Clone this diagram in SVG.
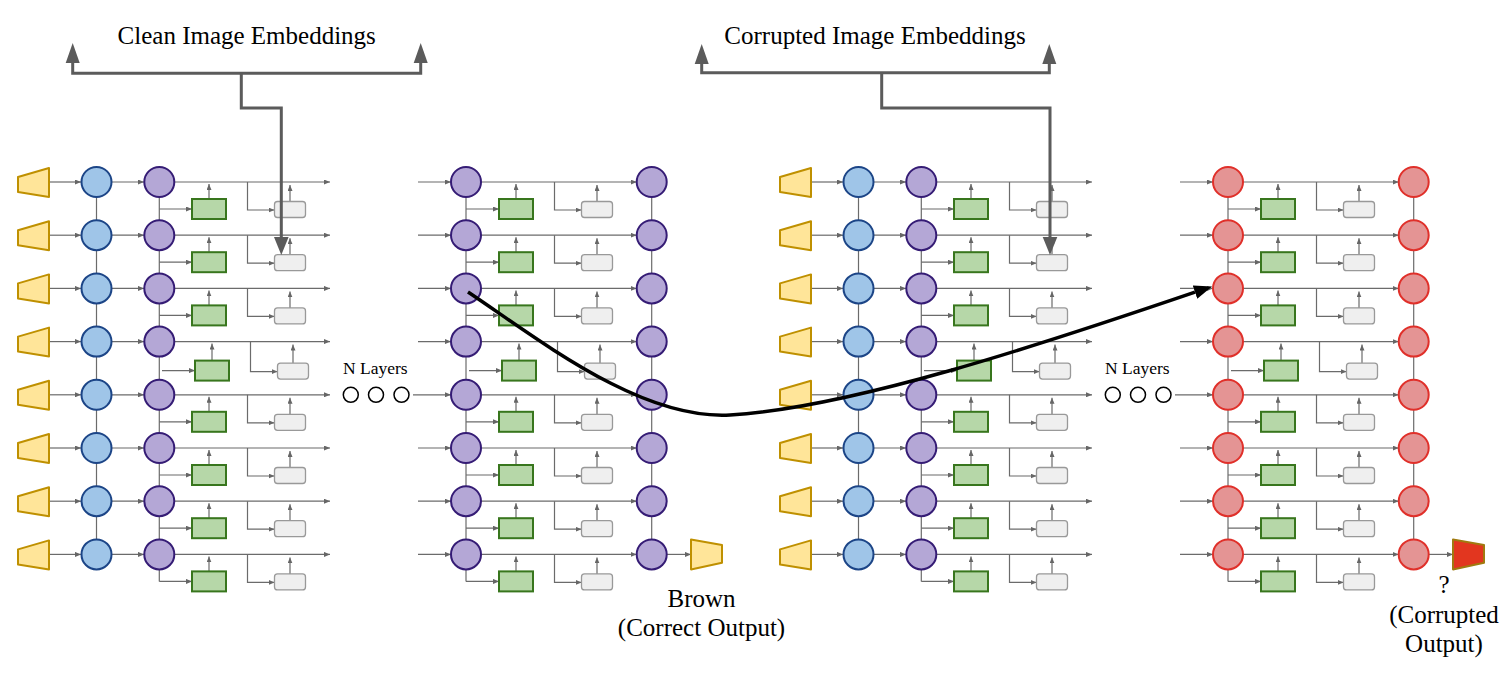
<svg xmlns="http://www.w3.org/2000/svg" width="1504" height="688" viewBox="0 0 1504 688">
<defs>
<marker id="sa" markerUnits="userSpaceOnUse" markerWidth="6" markerHeight="5" refX="6" refY="2.5" orient="auto"><path d="M0,0 L6,2.5 L0,5 z" fill="#666"/></marker>
<marker id="ba" markerUnits="userSpaceOnUse" markerWidth="19" markerHeight="14" refX="0" refY="7" orient="auto"><path d="M0,0 L18,7 L0,14 z" fill="#000"/></marker>
<style>
.ln path{fill:none;stroke:#6b6b6b;stroke-width:1.2;marker-end:url(#sa)}
.ln path.nm{marker-end:none}
.emb{fill:#ffe599;stroke:#bf9000;stroke-width:2;stroke-linejoin:round}
.embr{fill:#e2361f;stroke:#a07a10;stroke-width:2;stroke-linejoin:round}
.blue{fill:#9fc5e8;stroke:#1c4587;stroke-width:2}
.purple{fill:#b4a7d6;stroke:#351c75;stroke-width:2}
.red{fill:#e49494;stroke:#e0302a;stroke-width:2}
.green{fill:#b6d7a8;stroke:#38761d;stroke-width:2}
.gray{fill:#efefef;stroke:#999;stroke-width:1.3}
.br{fill:none;stroke:#5b5b5b;stroke-width:3}
.bh{fill:#5b5b5b}
.t{font-family:"Liberation Serif","Times New Roman",serif;font-size:25px;fill:#000;text-anchor:middle}
.s{font-family:"Liberation Serif","Times New Roman",serif;font-size:17.5px;fill:#000}
.oc{fill:none;stroke:#000;stroke-width:1.5}
</style>
</defs>
<rect width="1504" height="688" fill="#fff"/>

<g id="connectors" class="ln">
 <g id="conn-p1">
  <path class="nm" d="M96.5,182V554.4"/>
  <path class="nm" d="M159.3,182V581.4"/>
  <g transform="translate(0,182)"><path d="M49,0H81"/><path d="M111.5,0H144"/><path d="M174.3,0H330"/><path d="M159.3,27H192"/><path d="M209,17V2"/><path d="M247.5,0V28H274.5"/><path d="M290,19.5V3"/></g>
  <g transform="translate(0,235.2)"><path d="M49,0H81"/><path d="M111.5,0H144"/><path d="M174.3,0H330"/><path d="M159.3,27H192"/><path d="M209,17V2"/><path d="M247.5,0V28H274.5"/><path d="M290,19.5V3"/></g>
  <g transform="translate(0,288.4)"><path d="M49,0H81"/><path d="M111.5,0H144"/><path d="M174.3,0H330"/><path d="M159.3,27H192"/><path d="M209,17V2"/><path d="M247.5,0V28H274.5"/><path d="M290,19.5V3"/></g>
  <g transform="translate(0,341.6)"><path d="M49,0H81"/><path d="M111.5,0H144"/><path d="M174.3,0H330"/><path d="M162,29H195"/><path d="M212,19V2"/><path d="M250.5,0V30H277.5"/><path d="M293,21.5V3"/></g>
  <g transform="translate(0,394.8)"><path d="M49,0H81"/><path d="M111.5,0H144"/><path d="M174.3,0H330"/><path d="M159.3,27H192"/><path d="M209,17V2"/><path d="M247.5,0V28H274.5"/><path d="M290,19.5V3"/></g>
  <g transform="translate(0,448)"><path d="M49,0H81"/><path d="M111.5,0H144"/><path d="M174.3,0H330"/><path d="M159.3,27H192"/><path d="M209,17V2"/><path d="M247.5,0V28H274.5"/><path d="M290,19.5V3"/></g>
  <g transform="translate(0,501.2)"><path d="M49,0H81"/><path d="M111.5,0H144"/><path d="M174.3,0H330"/><path d="M159.3,27H192"/><path d="M209,17V2"/><path d="M247.5,0V28H274.5"/><path d="M290,19.5V3"/></g>
  <g transform="translate(0,554.4)"><path d="M49,0H81"/><path d="M111.5,0H144"/><path d="M174.3,0H330"/><path d="M159.3,27H192"/><path d="M209,17V2"/><path d="M247.5,0V28H274.5"/><path d="M290,19.5V3"/></g>
 </g>
 <g id="conn-p2">
  <path class="nm" d="M466,182V581.4"/>
  <path class="nm" d="M651.7,182V554.4"/>
  <g transform="translate(0,182)"><path d="M418,0H451"/><path d="M481,0H636.7"/><path d="M466,27H499"/><path d="M516,17V2"/><path d="M554.5,0V28H581.5"/><path d="M597,19.5V3"/></g>
  <g transform="translate(0,235.2)"><path d="M418,0H451"/><path d="M481,0H636.7"/><path d="M466,27H499"/><path d="M516,17V2"/><path d="M554.5,0V28H581.5"/><path d="M597,19.5V3"/></g>
  <g transform="translate(0,288.4)"><path d="M418,0H451"/><path d="M481,0H636.7"/><path d="M466,27H499"/><path d="M516,17V2"/><path d="M554.5,0V28H581.5"/><path d="M597,19.5V3"/></g>
  <g transform="translate(0,341.6)"><path d="M418,0H451"/><path d="M481,0H636.7"/><path d="M469,29H502"/><path d="M519,19V2"/><path d="M557.5,0V30H584.5"/><path d="M600,21.5V3"/></g>
  <g transform="translate(0,394.8)"><path d="M413,0H451"/><path d="M481,0H636.7"/><path d="M466,27H499"/><path d="M516,17V2"/><path d="M554.5,0V28H581.5"/><path d="M597,19.5V3"/></g>
  <g transform="translate(0,448)"><path d="M418,0H451"/><path d="M481,0H636.7"/><path d="M466,27H499"/><path d="M516,17V2"/><path d="M554.5,0V28H581.5"/><path d="M597,19.5V3"/></g>
  <g transform="translate(0,501.2)"><path d="M418,0H451"/><path d="M481,0H636.7"/><path d="M466,27H499"/><path d="M516,17V2"/><path d="M554.5,0V28H581.5"/><path d="M597,19.5V3"/></g>
  <g transform="translate(0,554.4)"><path d="M418,0H451"/><path d="M481,0H636.7"/><path d="M466,27H499"/><path d="M516,17V2"/><path d="M554.5,0V28H581.5"/><path d="M597,19.5V3"/><path d="M666.7,0H691"/></g>
 </g>
 <g id="conn-p3" transform="translate(762,0)">
  <path class="nm" d="M96.5,182V554.4"/>
  <path class="nm" d="M159.3,182V581.4"/>
  <g transform="translate(0,182)"><path d="M49,0H81"/><path d="M111.5,0H144"/><path d="M174.3,0H330"/><path d="M159.3,27H192"/><path d="M209,17V2"/><path d="M247.5,0V28H274.5"/><path d="M290,19.5V3"/></g>
  <g transform="translate(0,235.2)"><path d="M49,0H81"/><path d="M111.5,0H144"/><path d="M174.3,0H330"/><path d="M159.3,27H192"/><path d="M209,17V2"/><path d="M247.5,0V28H274.5"/><path d="M290,19.5V3"/></g>
  <g transform="translate(0,288.4)"><path d="M49,0H81"/><path d="M111.5,0H144"/><path d="M174.3,0H330"/><path d="M159.3,27H192"/><path d="M209,17V2"/><path d="M247.5,0V28H274.5"/><path d="M290,19.5V3"/></g>
  <g transform="translate(0,341.6)"><path d="M49,0H81"/><path d="M111.5,0H144"/><path d="M174.3,0H330"/><path d="M162,29H195"/><path d="M212,19V2"/><path d="M250.5,0V30H277.5"/><path d="M293,21.5V3"/></g>
  <g transform="translate(0,394.8)"><path d="M49,0H81"/><path d="M111.5,0H144"/><path d="M174.3,0H330"/><path d="M159.3,27H192"/><path d="M209,17V2"/><path d="M247.5,0V28H274.5"/><path d="M290,19.5V3"/></g>
  <g transform="translate(0,448)"><path d="M49,0H81"/><path d="M111.5,0H144"/><path d="M174.3,0H330"/><path d="M159.3,27H192"/><path d="M209,17V2"/><path d="M247.5,0V28H274.5"/><path d="M290,19.5V3"/></g>
  <g transform="translate(0,501.2)"><path d="M49,0H81"/><path d="M111.5,0H144"/><path d="M174.3,0H330"/><path d="M159.3,27H192"/><path d="M209,17V2"/><path d="M247.5,0V28H274.5"/><path d="M290,19.5V3"/></g>
  <g transform="translate(0,554.4)"><path d="M49,0H81"/><path d="M111.5,0H144"/><path d="M174.3,0H330"/><path d="M159.3,27H192"/><path d="M209,17V2"/><path d="M247.5,0V28H274.5"/><path d="M290,19.5V3"/></g>
 </g>
 <g id="conn-p4" transform="translate(762,0)">
  <path class="nm" d="M466,182V581.4"/>
  <path class="nm" d="M651.7,182V554.4"/>
  <g transform="translate(0,182)"><path d="M418,0H451"/><path d="M481,0H636.7"/><path d="M466,27H499"/><path d="M516,17V2"/><path d="M554.5,0V28H581.5"/><path d="M597,19.5V3"/></g>
  <g transform="translate(0,235.2)"><path d="M418,0H451"/><path d="M481,0H636.7"/><path d="M466,27H499"/><path d="M516,17V2"/><path d="M554.5,0V28H581.5"/><path d="M597,19.5V3"/></g>
  <g transform="translate(0,288.4)"><path d="M418,0H451"/><path d="M481,0H636.7"/><path d="M466,27H499"/><path d="M516,17V2"/><path d="M554.5,0V28H581.5"/><path d="M597,19.5V3"/></g>
  <g transform="translate(0,341.6)"><path d="M418,0H451"/><path d="M481,0H636.7"/><path d="M469,29H502"/><path d="M519,19V2"/><path d="M557.5,0V30H584.5"/><path d="M600,21.5V3"/></g>
  <g transform="translate(0,394.8)"><path d="M413,0H451"/><path d="M481,0H636.7"/><path d="M466,27H499"/><path d="M516,17V2"/><path d="M554.5,0V28H581.5"/><path d="M597,19.5V3"/></g>
  <g transform="translate(0,448)"><path d="M418,0H451"/><path d="M481,0H636.7"/><path d="M466,27H499"/><path d="M516,17V2"/><path d="M554.5,0V28H581.5"/><path d="M597,19.5V3"/></g>
  <g transform="translate(0,501.2)"><path d="M418,0H451"/><path d="M481,0H636.7"/><path d="M466,27H499"/><path d="M516,17V2"/><path d="M554.5,0V28H581.5"/><path d="M597,19.5V3"/></g>
  <g transform="translate(0,554.4)"><path d="M418,0H451"/><path d="M481,0H636.7"/><path d="M466,27H499"/><path d="M516,17V2"/><path d="M554.5,0V28H581.5"/><path d="M597,19.5V3"/><path d="M666.7,0H691"/></g>
 </g>
</g>

<g id="panel1">
 <g id="p1-in-0" transform="translate(0,182)"><polygon class="emb" points="18,-5 49,-14 49,15 18,10"/></g>
 <g id="p1-in-1" transform="translate(0,235.2)"><polygon class="emb" points="18,-5 49,-14 49,15 18,10"/></g>
 <g id="p1-in-2" transform="translate(0,288.4)"><polygon class="emb" points="18,-5 49,-14 49,15 18,10"/></g>
 <g id="p1-in-3" transform="translate(0,341.6)"><polygon class="emb" points="18,-5 49,-14 49,15 18,10"/></g>
 <g id="p1-in-4" transform="translate(0,394.8)"><polygon class="emb" points="18,-5 49,-14 49,15 18,10"/></g>
 <g id="p1-in-5" transform="translate(0,448)"><polygon class="emb" points="18,-5 49,-14 49,15 18,10"/></g>
 <g id="p1-in-6" transform="translate(0,501.2)"><polygon class="emb" points="18,-5 49,-14 49,15 18,10"/></g>
 <g id="p1-in-7" transform="translate(0,554.4)"><polygon class="emb" points="18,-5 49,-14 49,15 18,10"/></g>
 <g id="p1-enc-0"><circle class="blue" cx="96.5" cy="182" r="15"/></g>
 <g id="p1-enc-1"><circle class="blue" cx="96.5" cy="235.2" r="15"/></g>
 <g id="p1-enc-2"><circle class="blue" cx="96.5" cy="288.4" r="15"/></g>
 <g id="p1-enc-3"><circle class="blue" cx="96.5" cy="341.6" r="15"/></g>
 <g id="p1-enc-4"><circle class="blue" cx="96.5" cy="394.8" r="15"/></g>
 <g id="p1-enc-5"><circle class="blue" cx="96.5" cy="448" r="15"/></g>
 <g id="p1-enc-6"><circle class="blue" cx="96.5" cy="501.2" r="15"/></g>
 <g id="p1-enc-7"><circle class="blue" cx="96.5" cy="554.4" r="15"/></g>
 <g id="p1-h-0"><circle class="purple" cx="159.3" cy="182" r="15"/></g>
 <g id="p1-h-1"><circle class="purple" cx="159.3" cy="235.2" r="15"/></g>
 <g id="p1-h-2"><circle class="purple" cx="159.3" cy="288.4" r="15"/></g>
 <g id="p1-h-3"><circle class="purple" cx="159.3" cy="341.6" r="15"/></g>
 <g id="p1-h-4"><circle class="purple" cx="159.3" cy="394.8" r="15"/></g>
 <g id="p1-h-5"><circle class="purple" cx="159.3" cy="448" r="15"/></g>
 <g id="p1-h-6"><circle class="purple" cx="159.3" cy="501.2" r="15"/></g>
 <g id="p1-h-7"><circle class="purple" cx="159.3" cy="554.4" r="15"/></g>
 <g id="p1-attn-0"><rect class="green" x="192" y="199" width="34" height="20"/></g>
 <g id="p1-attn-1"><rect class="green" x="192" y="252.2" width="34" height="20"/></g>
 <g id="p1-attn-2"><rect class="green" x="192" y="305.4" width="34" height="20"/></g>
 <g id="p1-attn-3"><rect class="green" x="195" y="360.6" width="34" height="20"/></g>
 <g id="p1-attn-4"><rect class="green" x="192" y="411.8" width="34" height="20"/></g>
 <g id="p1-attn-5"><rect class="green" x="192" y="465" width="34" height="20"/></g>
 <g id="p1-attn-6"><rect class="green" x="192" y="518.2" width="34" height="20"/></g>
 <g id="p1-attn-7"><rect class="green" x="192" y="571.4" width="34" height="20"/></g>
 <g id="p1-mlp-0"><rect class="gray" x="274.5" y="201.5" width="31" height="16" rx="3"/></g>
 <g id="p1-mlp-1"><rect class="gray" x="274.5" y="254.7" width="31" height="16" rx="3"/></g>
 <g id="p1-mlp-2"><rect class="gray" x="274.5" y="307.9" width="31" height="16" rx="3"/></g>
 <g id="p1-mlp-3"><rect class="gray" x="277.5" y="363.1" width="31" height="16" rx="3"/></g>
 <g id="p1-mlp-4"><rect class="gray" x="274.5" y="414.3" width="31" height="16" rx="3"/></g>
 <g id="p1-mlp-5"><rect class="gray" x="274.5" y="467.5" width="31" height="16" rx="3"/></g>
 <g id="p1-mlp-6"><rect class="gray" x="274.5" y="520.7" width="31" height="16" rx="3"/></g>
 <g id="p1-mlp-7"><rect class="gray" x="274.5" y="573.9" width="31" height="16" rx="3"/></g>
</g>

<g id="nlayers-1">
 <text class="s" x="343" y="374">N Layers</text>
 <circle class="oc" cx="350.8" cy="394.8" r="7.5"/>
 <circle class="oc" cx="376" cy="394.8" r="7.5"/>
 <circle class="oc" cx="401.5" cy="394.8" r="7.5"/>
</g>

<g id="panel2">
 <g id="p2-h-0"><circle class="purple" cx="466" cy="182" r="15"/></g>
 <g id="p2-h-1"><circle class="purple" cx="466" cy="235.2" r="15"/></g>
 <g id="p2-h-2"><circle class="purple" cx="466" cy="288.4" r="15"/></g>
 <g id="p2-h-3"><circle class="purple" cx="466" cy="341.6" r="15"/></g>
 <g id="p2-h-4"><circle class="purple" cx="466" cy="394.8" r="15"/></g>
 <g id="p2-h-5"><circle class="purple" cx="466" cy="448" r="15"/></g>
 <g id="p2-h-6"><circle class="purple" cx="466" cy="501.2" r="15"/></g>
 <g id="p2-h-7"><circle class="purple" cx="466" cy="554.4" r="15"/></g>
 <g id="p2-attn-0"><rect class="green" x="499" y="199" width="34" height="20"/></g>
 <g id="p2-attn-1"><rect class="green" x="499" y="252.2" width="34" height="20"/></g>
 <g id="p2-attn-2"><rect class="green" x="499" y="305.4" width="34" height="20"/></g>
 <g id="p2-attn-3"><rect class="green" x="502" y="360.6" width="34" height="20"/></g>
 <g id="p2-attn-4"><rect class="green" x="499" y="411.8" width="34" height="20"/></g>
 <g id="p2-attn-5"><rect class="green" x="499" y="465" width="34" height="20"/></g>
 <g id="p2-attn-6"><rect class="green" x="499" y="518.2" width="34" height="20"/></g>
 <g id="p2-attn-7"><rect class="green" x="499" y="571.4" width="34" height="20"/></g>
 <g id="p2-mlp-0"><rect class="gray" x="581.5" y="201.5" width="31" height="16" rx="3"/></g>
 <g id="p2-mlp-1"><rect class="gray" x="581.5" y="254.7" width="31" height="16" rx="3"/></g>
 <g id="p2-mlp-2"><rect class="gray" x="581.5" y="307.9" width="31" height="16" rx="3"/></g>
 <g id="p2-mlp-3"><rect class="gray" x="584.5" y="363.1" width="31" height="16" rx="3"/></g>
 <g id="p2-mlp-4"><rect class="gray" x="581.5" y="414.3" width="31" height="16" rx="3"/></g>
 <g id="p2-mlp-5"><rect class="gray" x="581.5" y="467.5" width="31" height="16" rx="3"/></g>
 <g id="p2-mlp-6"><rect class="gray" x="581.5" y="520.7" width="31" height="16" rx="3"/></g>
 <g id="p2-mlp-7"><rect class="gray" x="581.5" y="573.9" width="31" height="16" rx="3"/></g>
 <g id="p2-o-0"><circle class="purple" cx="651.7" cy="182" r="15"/></g>
 <g id="p2-o-1"><circle class="purple" cx="651.7" cy="235.2" r="15"/></g>
 <g id="p2-o-2"><circle class="purple" cx="651.7" cy="288.4" r="15"/></g>
 <g id="p2-o-3"><circle class="purple" cx="651.7" cy="341.6" r="15"/></g>
 <g id="p2-o-4"><circle class="purple" cx="651.7" cy="394.8" r="15"/></g>
 <g id="p2-o-5"><circle class="purple" cx="651.7" cy="448" r="15"/></g>
 <g id="p2-o-6"><circle class="purple" cx="651.7" cy="501.2" r="15"/></g>
 <g id="p2-o-7"><circle class="purple" cx="651.7" cy="554.4" r="15"/></g>
 <g id="p2-unembed"><polygon class="emb" points="691,539.4 722,545 722,562.7 691,569.4"/></g>
</g>

<g id="panel3" transform="translate(762,0)">
 <g id="p3-in-0" transform="translate(0,182)"><polygon class="emb" points="18,-5 49,-14 49,15 18,10"/></g>
 <g id="p3-in-1" transform="translate(0,235.2)"><polygon class="emb" points="18,-5 49,-14 49,15 18,10"/></g>
 <g id="p3-in-2" transform="translate(0,288.4)"><polygon class="emb" points="18,-5 49,-14 49,15 18,10"/></g>
 <g id="p3-in-3" transform="translate(0,341.6)"><polygon class="emb" points="18,-5 49,-14 49,15 18,10"/></g>
 <g id="p3-in-4" transform="translate(0,394.8)"><polygon class="emb" points="18,-5 49,-14 49,15 18,10"/></g>
 <g id="p3-in-5" transform="translate(0,448)"><polygon class="emb" points="18,-5 49,-14 49,15 18,10"/></g>
 <g id="p3-in-6" transform="translate(0,501.2)"><polygon class="emb" points="18,-5 49,-14 49,15 18,10"/></g>
 <g id="p3-in-7" transform="translate(0,554.4)"><polygon class="emb" points="18,-5 49,-14 49,15 18,10"/></g>
 <g id="p3-enc-0"><circle class="blue" cx="96.5" cy="182" r="15"/></g>
 <g id="p3-enc-1"><circle class="blue" cx="96.5" cy="235.2" r="15"/></g>
 <g id="p3-enc-2"><circle class="blue" cx="96.5" cy="288.4" r="15"/></g>
 <g id="p3-enc-3"><circle class="blue" cx="96.5" cy="341.6" r="15"/></g>
 <g id="p3-enc-4"><circle class="blue" cx="96.5" cy="394.8" r="15"/></g>
 <g id="p3-enc-5"><circle class="blue" cx="96.5" cy="448" r="15"/></g>
 <g id="p3-enc-6"><circle class="blue" cx="96.5" cy="501.2" r="15"/></g>
 <g id="p3-enc-7"><circle class="blue" cx="96.5" cy="554.4" r="15"/></g>
 <g id="p3-h-0"><circle class="purple" cx="159.3" cy="182" r="15"/></g>
 <g id="p3-h-1"><circle class="purple" cx="159.3" cy="235.2" r="15"/></g>
 <g id="p3-h-2"><circle class="purple" cx="159.3" cy="288.4" r="15"/></g>
 <g id="p3-h-3"><circle class="purple" cx="159.3" cy="341.6" r="15"/></g>
 <g id="p3-h-4"><circle class="purple" cx="159.3" cy="394.8" r="15"/></g>
 <g id="p3-h-5"><circle class="purple" cx="159.3" cy="448" r="15"/></g>
 <g id="p3-h-6"><circle class="purple" cx="159.3" cy="501.2" r="15"/></g>
 <g id="p3-h-7"><circle class="purple" cx="159.3" cy="554.4" r="15"/></g>
 <g id="p3-attn-0"><rect class="green" x="192" y="199" width="34" height="20"/></g>
 <g id="p3-attn-1"><rect class="green" x="192" y="252.2" width="34" height="20"/></g>
 <g id="p3-attn-2"><rect class="green" x="192" y="305.4" width="34" height="20"/></g>
 <g id="p3-attn-3"><rect class="green" x="195" y="360.6" width="34" height="20"/></g>
 <g id="p3-attn-4"><rect class="green" x="192" y="411.8" width="34" height="20"/></g>
 <g id="p3-attn-5"><rect class="green" x="192" y="465" width="34" height="20"/></g>
 <g id="p3-attn-6"><rect class="green" x="192" y="518.2" width="34" height="20"/></g>
 <g id="p3-attn-7"><rect class="green" x="192" y="571.4" width="34" height="20"/></g>
 <g id="p3-mlp-0"><rect class="gray" x="274.5" y="201.5" width="31" height="16" rx="3"/></g>
 <g id="p3-mlp-1"><rect class="gray" x="274.5" y="254.7" width="31" height="16" rx="3"/></g>
 <g id="p3-mlp-2"><rect class="gray" x="274.5" y="307.9" width="31" height="16" rx="3"/></g>
 <g id="p3-mlp-3"><rect class="gray" x="277.5" y="363.1" width="31" height="16" rx="3"/></g>
 <g id="p3-mlp-4"><rect class="gray" x="274.5" y="414.3" width="31" height="16" rx="3"/></g>
 <g id="p3-mlp-5"><rect class="gray" x="274.5" y="467.5" width="31" height="16" rx="3"/></g>
 <g id="p3-mlp-6"><rect class="gray" x="274.5" y="520.7" width="31" height="16" rx="3"/></g>
 <g id="p3-mlp-7"><rect class="gray" x="274.5" y="573.9" width="31" height="16" rx="3"/></g>
</g>

<g id="nlayers-2" transform="translate(762,0)">
 <text class="s" x="343" y="374">N Layers</text>
 <circle class="oc" cx="350.8" cy="394.8" r="7.5"/>
 <circle class="oc" cx="376" cy="394.8" r="7.5"/>
 <circle class="oc" cx="401.5" cy="394.8" r="7.5"/>
</g>

<g id="panel4" transform="translate(762,0)">
 <g id="p4-h-0"><circle class="red" cx="466" cy="182" r="15"/></g>
 <g id="p4-h-1"><circle class="red" cx="466" cy="235.2" r="15"/></g>
 <g id="p4-h-2"><circle class="red" cx="466" cy="288.4" r="15"/></g>
 <g id="p4-h-3"><circle class="red" cx="466" cy="341.6" r="15"/></g>
 <g id="p4-h-4"><circle class="red" cx="466" cy="394.8" r="15"/></g>
 <g id="p4-h-5"><circle class="red" cx="466" cy="448" r="15"/></g>
 <g id="p4-h-6"><circle class="red" cx="466" cy="501.2" r="15"/></g>
 <g id="p4-h-7"><circle class="red" cx="466" cy="554.4" r="15"/></g>
 <g id="p4-attn-0"><rect class="green" x="499" y="199" width="34" height="20"/></g>
 <g id="p4-attn-1"><rect class="green" x="499" y="252.2" width="34" height="20"/></g>
 <g id="p4-attn-2"><rect class="green" x="499" y="305.4" width="34" height="20"/></g>
 <g id="p4-attn-3"><rect class="green" x="502" y="360.6" width="34" height="20"/></g>
 <g id="p4-attn-4"><rect class="green" x="499" y="411.8" width="34" height="20"/></g>
 <g id="p4-attn-5"><rect class="green" x="499" y="465" width="34" height="20"/></g>
 <g id="p4-attn-6"><rect class="green" x="499" y="518.2" width="34" height="20"/></g>
 <g id="p4-attn-7"><rect class="green" x="499" y="571.4" width="34" height="20"/></g>
 <g id="p4-mlp-0"><rect class="gray" x="581.5" y="201.5" width="31" height="16" rx="3"/></g>
 <g id="p4-mlp-1"><rect class="gray" x="581.5" y="254.7" width="31" height="16" rx="3"/></g>
 <g id="p4-mlp-2"><rect class="gray" x="581.5" y="307.9" width="31" height="16" rx="3"/></g>
 <g id="p4-mlp-3"><rect class="gray" x="584.5" y="363.1" width="31" height="16" rx="3"/></g>
 <g id="p4-mlp-4"><rect class="gray" x="581.5" y="414.3" width="31" height="16" rx="3"/></g>
 <g id="p4-mlp-5"><rect class="gray" x="581.5" y="467.5" width="31" height="16" rx="3"/></g>
 <g id="p4-mlp-6"><rect class="gray" x="581.5" y="520.7" width="31" height="16" rx="3"/></g>
 <g id="p4-mlp-7"><rect class="gray" x="581.5" y="573.9" width="31" height="16" rx="3"/></g>
 <g id="p4-o-0"><circle class="red" cx="651.7" cy="182" r="15"/></g>
 <g id="p4-o-1"><circle class="red" cx="651.7" cy="235.2" r="15"/></g>
 <g id="p4-o-2"><circle class="red" cx="651.7" cy="288.4" r="15"/></g>
 <g id="p4-o-3"><circle class="red" cx="651.7" cy="341.6" r="15"/></g>
 <g id="p4-o-4"><circle class="red" cx="651.7" cy="394.8" r="15"/></g>
 <g id="p4-o-5"><circle class="red" cx="651.7" cy="448" r="15"/></g>
 <g id="p4-o-6"><circle class="red" cx="651.7" cy="501.2" r="15"/></g>
 <g id="p4-o-7"><circle class="red" cx="651.7" cy="554.4" r="15"/></g>
 <g id="p4-unembed"><polygon class="embr" points="691,539.4 722,545 722,562.7 691,569.4"/></g>
</g>

<g id="clean-embeddings">
 <text class="t" x="246.7" y="44">Clean Image Embeddings</text>
 <path class="br" d="M72.7,62 V73.3 H420.7 V62"/>
 <polygon class="bh" points="65.7,63 79.7,63 72.7,43"/>
 <polygon class="bh" points="413.7,63 427.7,63 420.7,43"/>
 <path class="br" d="M241.3,73.3 V108 H281.3 V238"/>
 <polygon class="bh" points="274,237 288.6,237 281.3,255"/>
</g>

<g id="corrupted-embeddings">
 <text class="t" x="875" y="44">Corrupted Image Embeddings</text>
 <path class="br" d="M701.7,63 V72.7 H1049.3 V63"/>
 <polygon class="bh" points="694.7,64 708.7,64 701.7,44"/>
 <polygon class="bh" points="1042.3,64 1056.3,64 1049.3,44"/>
 <path class="br" d="M881.7,72.7 V108 H1050 V238"/>
 <polygon class="bh" points="1042.7,237 1057.3,237 1050,255"/>
</g>

<g id="labels">
 <text class="t" x="701.5" y="607">Brown</text>
 <text class="t" x="701.5" y="636">(Correct Output)</text>
 <text class="t" x="1444" y="593">?</text>
 <text class="t" x="1444" y="623">(Corrupted</text>
 <text class="t" x="1444" y="652">Output)</text>
</g>

<g id="patch-connector">
 <path d="M468,292 C540,340 640,420 730,415 C850,408 1040,345 1195,292.2" fill="none" stroke="#000" stroke-width="3.5" marker-end="url(#ba)"/>
</g>
</svg>
